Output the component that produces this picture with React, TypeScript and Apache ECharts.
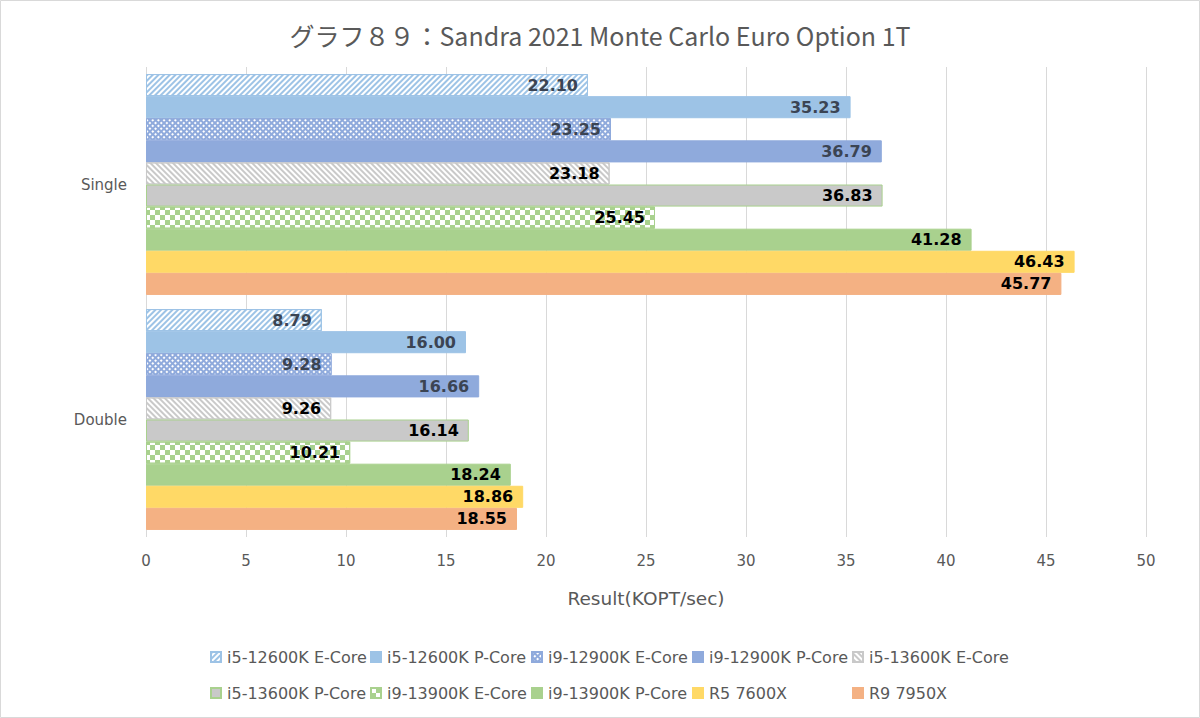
import React, { useEffect, useRef } from "react";
import * as echarts from "echarts";

const titleText = "グラフ８９：Sandra 2021 Monte Carlo Euro Option 1T";
const categories = ["Single", "Double"];
const seriesNames = [
  "i5-12600K E-Core",
  "i5-12600K P-Core",
  "i9-12900K E-Core",
  "i9-12900K P-Core",
  "i5-13600K E-Core",
  "i5-13600K P-Core",
  "i9-13900K E-Core",
  "i9-13900K P-Core",
  "R5 7600X",
  "R9 7950X",
];
const singleValues = [22.1, 35.23, 23.25, 36.79, 23.18, 36.83, 25.45, 41.28, 46.43, 45.77];
const doubleValues = [8.79, 16.0, 9.28, 16.66, 9.26, 16.14, 10.21, 18.24, 18.86, 18.55];
const axisName = "Result(KOPT/sec)";

const FONT = "'DejaVu Sans', 'Noto Sans CJK JP', sans-serif";
const TITLE_FONT = "'Noto Sans CJK JP', sans-serif";
const GRAY = "#595959";

const styles: any[] = [
  { color: "#ffffff", borderColor: "#9DC3E6", decal: { symbol: "rect", color: "#9DC3E6", dashArrayX: [1, 0], dashArrayY: [2, 2], rotation: -Math.PI / 4 }, label: "#3B4453" },
  { color: "#9DC3E6", borderColor: "#9DC3E6", label: "#3B4453" },
  { color: "#8FAADC", borderColor: "#8FAADC", decal: { symbol: "rect", color: "#ffffff", dashArrayX: [2, 2], dashArrayY: [2, 2], rotation: Math.PI / 4 }, label: "#3B4453" },
  { color: "#8FAADC", borderColor: "#8FAADC", label: "#3B4453" },
  { color: "#ffffff", borderColor: "#C9C9C9", decal: { symbol: "rect", color: "#C9C9C9", dashArrayX: [1, 0], dashArrayY: [2, 2], rotation: Math.PI / 4 }, label: "#000000" },
  { color: "#C9C9C9", borderColor: "#A9D18E", label: "#000000" },
  { color: "#ffffff", borderColor: "#A9D18E", decal: { symbol: "rect", color: "#A9D18E", dashArrayX: [[5, 5], [0, 5, 5, 0]], dashArrayY: [5, 0] }, label: "#000000" },
  { color: "#A9D18E", borderColor: "#A9D18E", label: "#000000" },
  { color: "#FFD966", borderColor: "#FFD966", label: "#000000" },
  { color: "#F4B183", borderColor: "#F4B183", label: "#000000" },
];

const legendColumnsX = [205, 365, 526, 687, 847];

export default function App() {
  const ref = useRef<HTMLDivElement>(null);
  useEffect(() => {
    document.body.style.margin = "0";
    const chart = echarts.init(ref.current!, null, { renderer: "svg" });
    const series = seriesNames.map((name, i) => {
      const s = styles[i];
      const itemStyle: any = { color: s.color, borderColor: s.borderColor, borderWidth: 1 };
      if (s.decal) itemStyle.decal = s.decal;
      return {
        name,
        type: "bar",
        data: [singleValues[i], doubleValues[i]],
        barGap: "0%",
        barCategoryGap: "6%",
        itemStyle,
        label: {
          show: true,
          position: "insideRight",
          distance: 10,
          formatter: (p: any) => Number(p.value).toFixed(2),
          color: s.label,
          fontWeight: "bold",
          fontSize: 16,
          fontFamily: "'DejaVu Sans', sans-serif",
        },
      };
    });
    const legends = legendColumnsX.map((x, c) => ({
      left: x,
      top: 644,
      orient: "vertical",
      icon: "rect",
      itemWidth: 10,
      itemHeight: 10,
      itemGap: 20,
      textStyle: { color: GRAY, fontSize: 16, fontFamily: FONT, padding: [0, 0, 0, 1] },
      data: [seriesNames[c], seriesNames[c + 5]],
    }));
    chart.setOption({
      animation: false,
      backgroundColor: "#ffffff",
      title: {
        text: titleText,
        left: "center",
        top: 17,
        textStyle: { color: GRAY, fontSize: 25, fontWeight: "normal", fontFamily: TITLE_FONT },
      },
      legend: legends,
      grid: { left: 146, right: 54, top: 67, bottom: 181, containLabel: false },
      xAxis: {
        type: "value",
        min: 0,
        max: 50,
        interval: 5,
        name: axisName,
        nameLocation: "middle",
        nameGap: 52,
        nameTextStyle: { color: GRAY, fontSize: 18.5, fontFamily: FONT },
        axisLine: { show: false },
        axisTick: { show: false },
        splitLine: { show: true, lineStyle: { color: "#D9D9D9", width: 1 } },
        axisLabel: { color: GRAY, fontSize: 15, fontFamily: FONT, margin: 16 },
      },
      yAxis: {
        type: "category",
        data: categories,
        inverse: true,
        axisLine: { show: false },
        axisTick: { show: false },
        axisLabel: { color: GRAY, fontSize: 15, fontFamily: FONT, margin: 19 },
      },
      graphic: [
        {
          type: "rect",
          shape: { x: 0.5, y: 0.5, width: 1199, height: 717 },
          style: { fill: "none", stroke: "#D9D9D9", lineWidth: 1 },
          silent: true,
        },
      ],
      series,
    });
    return () => chart.dispose();
  }, []);
  return <div ref={ref} style={{ position: "absolute", left: 0, top: 0, width: 1200, height: 718 }} />;
}
